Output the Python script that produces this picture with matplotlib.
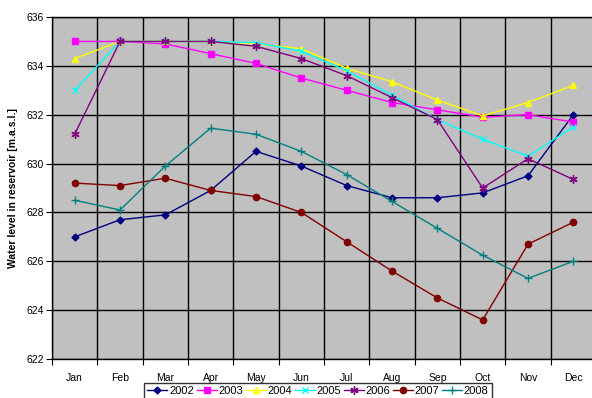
import matplotlib
matplotlib.use("Agg")
import matplotlib.pyplot as plt
import numpy as np

months = ["Jan", "Feb", "Mar", "Apr", "May", "Jun", "Jul", "Aug", "Sep", "Oct", "Nov", "Dec"]
y2002 = [627.0, 627.7, 627.9, 628.9, 630.5, 629.9, 629.1, 628.6, 628.6, 628.8, 629.5, 632.0]
y2003 = [635.0, 635.0, 634.9, 634.5, 634.1, 633.5, 633.0, 632.5, 632.2, 631.9, 632.0, 631.7]
y2004 = [634.3, 635.0, 635.0, 635.0, 634.9, 634.7, 633.9, 633.35, 632.6, 631.95, 632.5, 633.2]
y2005 = [633.0, 635.0, 635.0, 635.0, 634.95, 634.6, 633.8, 632.8, 631.8, 631.0, 630.3, 631.5]
y2006 = [631.2, 635.0, 635.0, 635.0, 634.8, 634.3, 633.6, 632.7, 631.8, 629.0, 630.2, 629.35]
y2007 = [629.2, 629.1, 629.4, 628.9, 628.65, 628.0, 626.8, 625.6, 624.5, 623.6, 626.7, 627.6]
y2008 = [628.5, 628.1, 629.9, 631.45, 631.2, 630.5, 629.55, 628.45, 627.35, 626.25, 625.3, 626.0]
series_names = ["2002", "2003", "2004", "2005", "2006", "2007", "2008"]
yticks = [622, 624, 626, 628, 630, 632, 634, 636]

plt.rcParams['font.family'] = ['Liberation Sans', 'DejaVu Sans']

fig = plt.figure(figsize=(5.92, 3.98), dpi=100)
ax = fig.add_axes([52/592, 39/398, 544/592, 342/398])
ax.set_facecolor("#C0C0C0")

styles = [
    dict(color="#000080", marker="D", ms=3.5),
    dict(color="#FF00FF", marker="s", ms=4.5),
    dict(color="#FFFF00", marker="^", ms=5),
    dict(color="#00FFFF", marker="x", ms=5, mew=1),
    dict(color="#800080", marker=(6, 2, 0), ms=6, mew=1),
    dict(color="#800000", marker="o", ms=4.5),
    dict(color="#008080", marker="+", ms=6, mew=1),
]
x = np.arange(len(months))
data = [y2002, y2003, y2004, y2005, y2006, y2007, y2008]
for name, ys, st in zip(series_names, data, styles):
    ax.plot(x, ys, lw=1, label=name, **st)

ax.set_xlim(-0.5, 11.5)
ax.set_ylim(622, 636)
ax.set_yticks(yticks)
ax.set_yticklabels([str(v) for v in yticks], fontsize=7.5)
ax.set_xticks(np.arange(-0.5, 12, 1))
ax.set_xticklabels([])
ax.set_xticks(x, minor=True)
ax.set_xticklabels(months, minor=True, fontsize=7.5)
ax.tick_params(axis='x', which='minor', length=0, pad=10)
ax.tick_params(axis='x', which='major', length=4, direction='out')
ax.tick_params(axis='y', length=4, direction='out', pad=2)
ax.grid(True, which='major', color="black", lw=1)
ax.set_axisbelow(True)
for s in ax.spines.values():
    s.set_color("black")
    s.set_linewidth(1)
ax.set_ylabel("Water level in reservoir [m.a.s.l.]", fontsize=7.5, fontweight='bold', labelpad=6)

leg = fig.legend(loc='upper center', bbox_to_anchor=(318/592, 15/398), ncol=7, fontsize=8,
                 frameon=True, fancybox=False, edgecolor='black', handlelength=1.8,
                 handletextpad=0.15, columnspacing=0.25, borderpad=0.3, borderaxespad=0)
leg.get_frame().set_linewidth(1)

fig.savefig("out.png", dpi=100, facecolor="white")
